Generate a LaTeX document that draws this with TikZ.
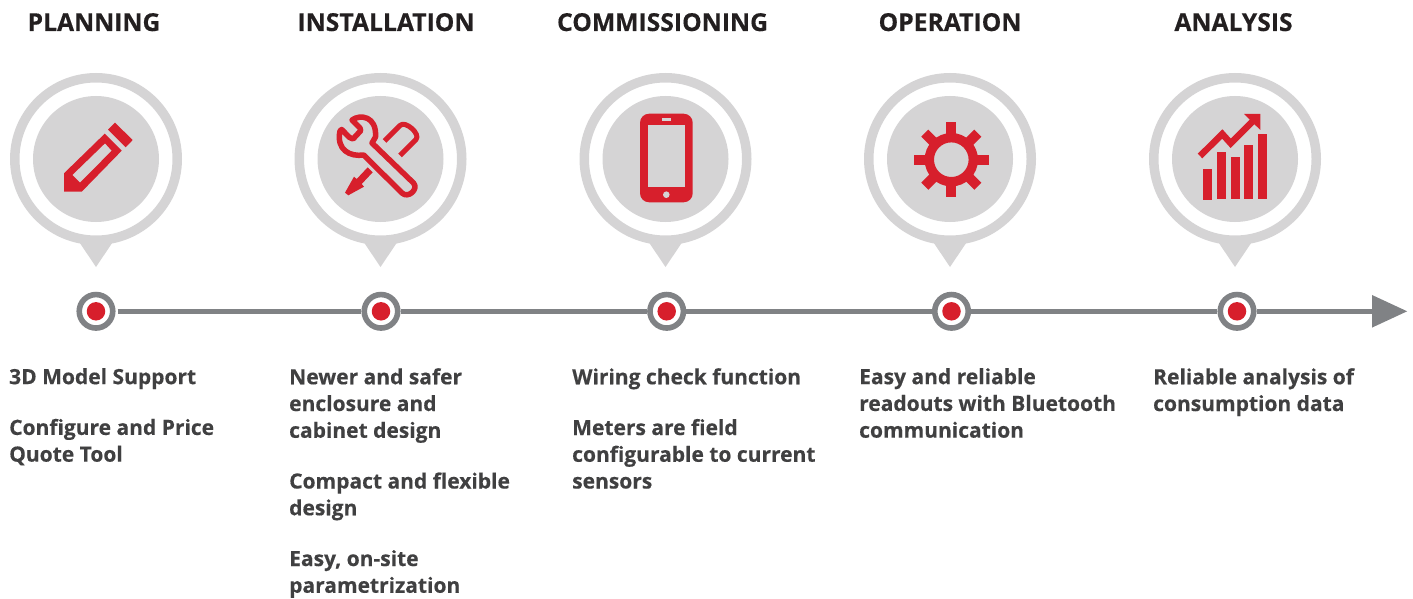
\documentclass[tikz,border=0pt]{standalone}
\usepackage{fontspec}
\setmainfont{Open Sans}[BoldFont={Open Sans Bold},BoldFeatures={FakeBold=0.35}]
\usetikzlibrary{arrows.meta}
\definecolor{pinG}{HTML}{D5D4D5}
\definecolor{redI}{HTML}{D71F2C}
\definecolor{lineG}{HTML}{808285}
\definecolor{txtD}{HTML}{404041}
\definecolor{headK}{HTML}{231F20}
\tikzset{
  x=1pt,y=-1pt,
  headtxt/.style={font=\fontsize{24.7}{27}\selectfont\bfseries,text=headK,anchor=base,inner sep=0pt},
  bodytxt/.style={font=\fontsize{21}{26.75}\selectfont\bfseries,text=txtD,anchor=north west,inner sep=0pt,align=left},
  dotnode/.style={circle,draw=lineG,line width=5.6pt,fill=white,minimum size=33.5pt,inner sep=0pt},
  dotcore/.style={circle,fill=redI,minimum size=18.5pt,inner sep=0pt},
  icon/.style={fill=redI,draw=none},
  iconline/.style={draw=redI,line width=5.5pt,line join=round,fill=none},
  pin/.pic={
    \fill[pinG,even odd rule] (0,0) circle[radius=86] (0,0) circle[radius=76.5];
    \fill[pinG] (-16.5,83.5) -- (0,108) -- (16.5,83.5) -- (0,85.5) -- cycle;
    \fill[pinG] (0,0) circle[radius=63];
  }
}
\begin{document}
\begin{tikzpicture}
\useasboundingbox (0,0) rectangle (1413,599);
% pins
\pic at (96,159) {pin};
\pic at (380.5,159) {pin};
\pic at (665.5,159) {pin};
\pic at (950,159) {pin};
\pic at (1235,159) {pin};
% timeline
\node[dotnode] (d1) at (96,311.3) {};
\node[dotnode] (d2) at (381,311.3) {};
\node[dotnode] (d3) at (666.7,311.3) {};
\node[dotnode] (d4) at (951.5,311.3) {};
\node[dotnode] (d5) at (1237,311.3) {};
\coordinate (tip) at (1407.5,311.3);
\draw[lineG,line width=5.6pt,shorten <=2pt] (d1) -- (d2);
\draw[lineG,line width=5.6pt] (d2) -- (d3);
\draw[lineG,line width=5.6pt] (d3) -- (d4);
\draw[lineG,line width=5.6pt] (d4) -- (d5);
\draw[lineG,line width=5.6pt,-{Triangle[length=35.5pt,width=31pt]}] (d5) -- (tip);
\foreach \n in {1,...,5} \node[dotcore] (c\n) at (d\n) {};
% pencil
\fill[icon,even odd rule] (64,191.7) -- (64,173.3) -- (104.7,133.7) -- (121.7,150.7) -- (81.7,191.7) -- cycle
  (72.3,175) -- (105,143.3) -- (111.7,150.7) -- (80,182.7) -- cycle;
\fill[icon] (115,122.7) -- (132.7,140) -- (125.7,147.3) -- (108,129.7) -- cycle;
% wrench
\draw[iconline] (352,120) .. controls (360,114) and (377,116) .. (375.5,137) -- (372,143) -- (413.5,183)
  .. controls (419,189) and (408,199) .. (402,193) -- (363.7,155)
  .. controls (350,157) and (336,150) .. (340,131) -- (341.7,129.5) -- (349.3,137.3) -- (353,139) -- (360.7,130.7) -- (360,128) -- cycle;
% screwdriver
\draw[redI,line width=5pt,line join=round] (384.5,141) -- (400,125.5) .. controls (405,120) and (421,134) .. (416,139.5) -- (400,155.5);
\fill[icon] (367.7,167.3) -- (372.7,172.3) -- (361.7,184) -- (364,186.7) -- (348.3,195.3) -- (345,192.7) -- (354,176.7) -- (356.7,179) -- cycle;
% phone
\fill[icon,rounded corners=9pt] (640,113.7) rectangle (692.7,202.3);
\fill[pinG] (647.7,124.7) rectangle (685,187.3);
\fill[pinG] (661.7,118.4) rectangle (670.7,120.6);
\fill[pinG] (666.3,194.7) circle[radius=3.3];
% gear
\begin{scope}[shift={(951.3,159.7)}]
  \fill[icon,even odd rule] (0,0) circle[radius=26.7] (0,0) circle[radius=17.3];
  \foreach \a in {0,45,...,315}
    \fill[icon,rotate=\a] (24,-5) rectangle (37.5,5);
\end{scope}
% chart
\fill[icon] (1203,169) rectangle (1212,200);
\fill[icon] (1217,152) rectangle (1226,199);
\fill[icon] (1231,157) rectangle (1240,199);
\fill[icon] (1244,145) rectangle (1253,199);
\fill[icon] (1258,133.7) rectangle (1267,199);
\draw[redI,line width=6.5pt] (1200,156) -- (1222.3,134) -- (1230.7,143.3) -- (1253,121);
\fill[icon] (1244,114) -- (1260.3,114) -- (1260.3,130) -- cycle;
% headings
\node[headtxt] (h1) at (94,31) {PLANNING};
\node[headtxt] (h2) at (386,31) {INSTALLATION};
\node[headtxt] (h3) at (662.5,31) {COMMISSIONING};
\node[headtxt] (h4) at (950,31) {OPERATION};
\node[headtxt] (h5) at (1233.5,31) {ANALYSIS};
% body
\node[bodytxt] (b1) at (9,368) {3D Model Support\\[24pt]Configure and Price\\Quote Tool};
\node[bodytxt] (b2) at (289,368) {Newer and safer\\enclosure and\\cabinet design\\[24pt]Compact and flexible\\design\\[24pt]Easy, on-site\\parametrization};
\node[bodytxt] (b3) at (572,368) {Wiring check function\\[24pt]Meters are field\\configurable to current\\sensors};
\node[bodytxt] (b4) at (859,368) {Easy and reliable\\readouts with Bluetooth\\communication};
\node[bodytxt] (b5) at (1153,368) {Reliable analysis of\\consumption data};
\end{tikzpicture}
\end{document}
